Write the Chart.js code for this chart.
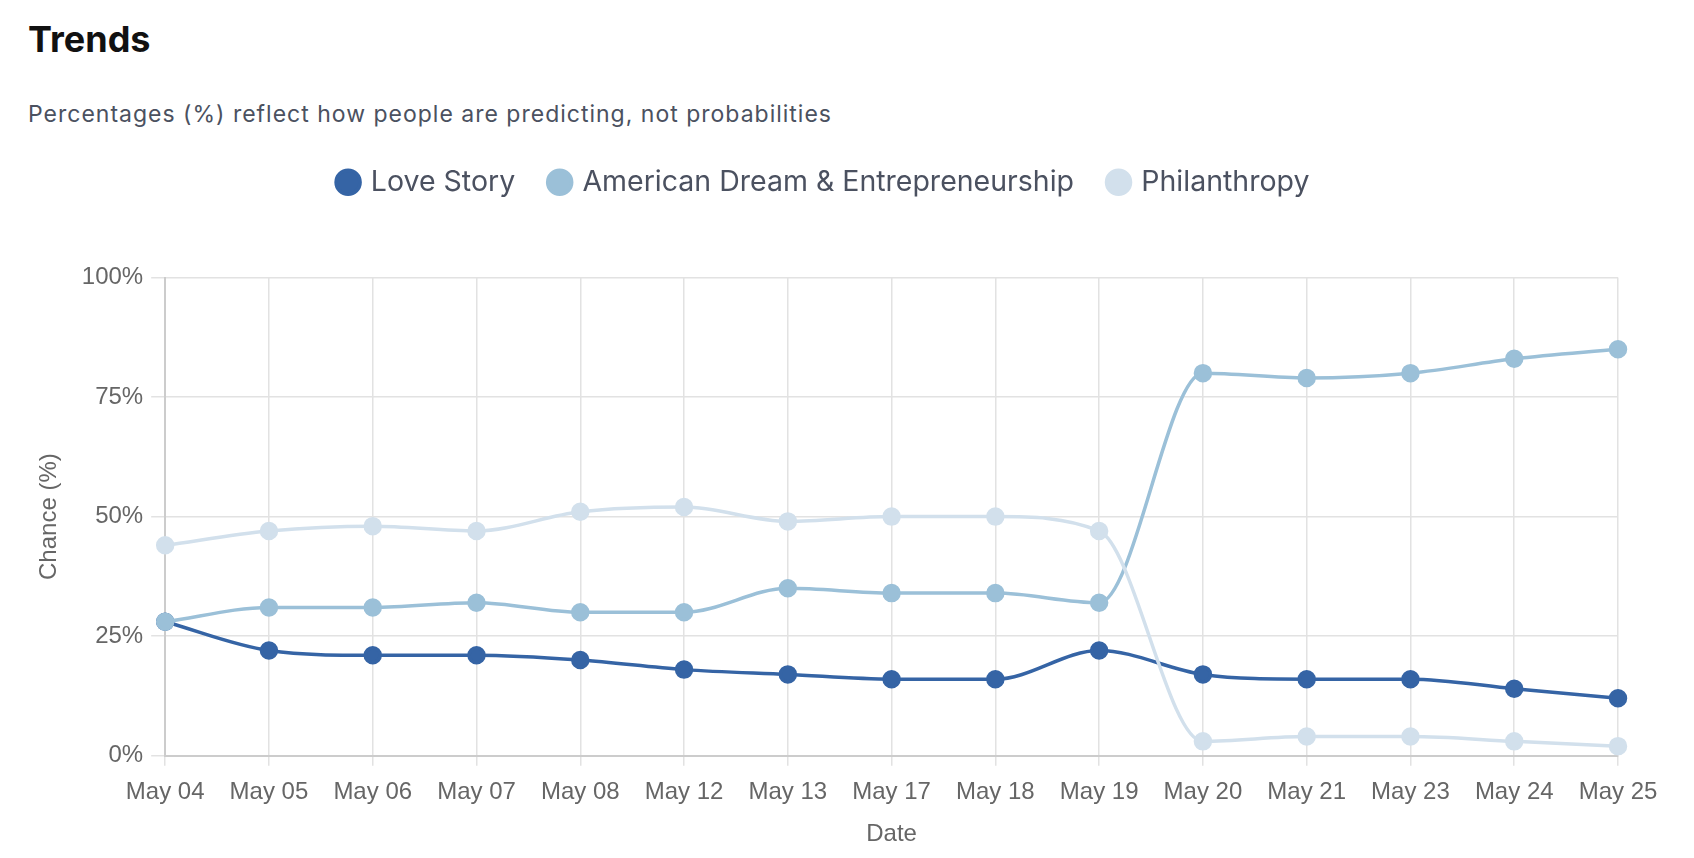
<!DOCTYPE html>
<html lang="en">
<head>
    <meta charset="UTF-8">
    <title>Trends</title>
    <style>
        body { margin: 0; background: #fff; width: 1694px; height: 858px; overflow: hidden; }
        .title { position: absolute; left: 28px; top: 17px; margin: 0; font-family: Inter, sans-serif; font-weight: 700; font-size: 36px; color: #111; }
        .subtitle { position: absolute; left: 28px; top: 100px; margin: 0; font-family: Inter, sans-serif; font-size: 23px; letter-spacing: 1px; color: #4b5160; }
        .chart-box { position: absolute; left: 0; top: 120px; width: 1694px; height: 738px; }
    </style>
</head>
<body>
    <h2 class="title">Trends</h2>
    <p class="subtitle">Percentages (%) reflect how people are predicting, not probabilities</p>
    <div class="chart-box"><canvas id="trends"></canvas></div>

    <script src="https://cdn.jsdelivr.net/npm/chart.js@4.4.1/dist/chart.umd.min.js"></script>
    <script type="text/javascript">
        const dates = ["May 04","May 05","May 06","May 07","May 08","May 12","May 13","May 17","May 18","May 19","May 20","May 21","May 23","May 24","May 25"];
        const loveStory = [28,22,21,21,20,18,17,16,16,22,17,16,16,14,12];
        const americanDream = [28,31,31,32,30,30,35,34,34,32,80,79,80,83,85];
        const philanthropy = [44,47,48,47,51,52,49,50,50,47,3,4,4,3,2];
        const yTicks = [0,25,50,75,100];

        function series(label, data, color) {
            return {
                label: label,
                data: data,
                borderColor: color,
                backgroundColor: color,
                pointBackgroundColor: color,
                pointBorderColor: color,
                borderWidth: 3.5,
                pointRadius: 7.5,
                pointHoverRadius: 7.5,
                cubicInterpolationMode: "monotone"
            };
        }

        // extra room under the legend, like the original
        const legendGap = {
            id: "legendGap",
            beforeInit(chart) {
                const fit = chart.legend.fit;
                chart.legend.fit = function() {
                    fit.call(this);
                    this.height += 71;
                };
            }
        };

        const tickFont = {family: "'Liberation Sans', Arial, sans-serif", size: 24};

        new Chart("trends", {
            type: "line",
            data: {
                labels: dates,
                datasets: [
                    series("Philanthropy", philanthropy, "#d2e0ec"),
                    series("American Dream & Entrepreneurship", americanDream, "#9bc0d8"),
                    series("Love Story", loveStory, "#3564a5")
                ]
            },
            plugins: [legendGap],
            options: {
                responsive: true,
                maintainAspectRatio: false,
                animation: false,
                layout: {padding: {left: 31, right: 76, top: 12, bottom: 11.5}},
                plugins: {
                    tooltip: {enabled: false},
                    legend: {
                        reverse: true,
                        labels: {
                            usePointStyle: true,
                            pointStyle: "circle",
                            boxWidth: 17,
                            boxHeight: 17,
                            padding: 36,
                            color: "#4b5160",
                            font: {family: "Inter, sans-serif", size: 28.5}
                        }
                    }
                },
                scales: {
                    x: {
                        offset: false,
                        grid: {color: "#e2e2e2", lineWidth: 1.5, tickLength: 10},
                        border: {color: "#cccccc", width: 2},
                        ticks: {color: "#666", font: tickFont, maxRotation: 0, autoSkip: false, padding: 12.5},
                        title: {display: true, text: "Date", color: "#666", font: {family: tickFont.family, size: 24, lineHeight: 1}, padding: {top: 3, bottom: 0}}
                    },
                    y: {
                        min: 0,
                        max: 100,
                        afterBuildTicks: (axis) => { axis.ticks = yTicks.map(v => ({value: v})); },
                        grid: {color: "#e2e2e2", lineWidth: 1.5, tickLength: 14},
                        border: {color: "#cccccc", width: 2},
                        ticks: {color: "#666", font: tickFont, padding: 8, callback: (v) => v + "%"},
                        title: {display: true, text: "Chance (%)", color: "#666", font: tickFont, padding: {bottom: 10}}
                    }
                }
            }
        });
    </script>
</body>
</html>
